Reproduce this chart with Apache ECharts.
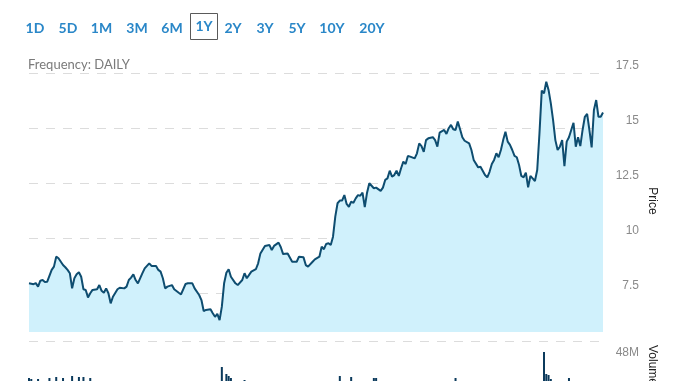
<!DOCTYPE html>
<html><head><meta charset="utf-8">
<script src="https://cdn.jsdelivr.net/npm/echarts@6/dist/echarts.min.js"></script>
<style>html,body{margin:0;padding:0;background:#fff}#c{width:678px;height:381px}</style>
</head><body><div id="c"></div>
<script>
// ---- data (trading-day index from start of the 1Y window) ----
const days = [
0,2,3,4,5,6,7,8,10,11,
12,13,15,16,17,18,19,20,21,22,
23,24,25,26,27,28,30,31,32,33,
34,35,36,37,39,40,42,43,44,45,
46,47,48,50,51,53,54,56,57,58,
59,60,61,63,64,66,67,69,70,72,
73,75,76,77,78,80,81,82,83,84,
85,86,87,88,89,91,92,94,95,96,
98,100,101,102,104,106,107,108,110,111,
112,114,116,118,119,121,122,123,125,126,
128,129,130,131,132,133,134,135,136,137,
138,139,140,141,142,143,144,145,146,147,
148,149,150,152,153,155,156,157,158,159,
160,161,162,163,164,165,166,167,168,170,
171,172,173,174,175,176,178,179,180,181,
183,184,185,186,187,188,189,190,191,192,
194,195,196,198,199,201,202,203,204,205,
206,207,208,209,210,211,212,213,214,215,
216,217,218,219,220,221,222,223,224,225,
226,227,228,229,230,231,232,233,234,235,
236,237,238,239,240,241,242,243,244,245,
246,247,248,249,250,251,252,253];
const prices = [
7.94,7.90,7.95,7.79,8.06,8.09,8.00,8.01,8.55,8.70,
9.15,9.08,8.77,8.67,8.55,8.40,7.71,8.17,8.35,8.44,
8.24,7.67,7.64,7.30,7.49,7.64,7.67,7.86,7.60,7.51,
7.71,7.49,7.03,7.33,7.67,7.74,7.71,7.79,8.09,8.20,
8.35,8.09,7.94,8.40,8.62,8.85,8.73,8.73,8.55,8.47,
8.17,7.71,7.79,7.86,7.67,7.51,7.44,7.91,7.94,7.94,
7.71,7.41,7.18,6.68,6.73,6.76,6.58,6.42,6.55,6.27,
6.88,7.94,8.42,8.58,8.24,7.94,7.86,8.09,8.40,8.17,
8.47,8.58,8.85,9.30,9.64,9.68,9.45,9.64,9.79,9.58,
9.27,9.30,8.92,8.92,9.15,9.12,8.77,8.70,8.92,9.03,
9.15,9.60,9.49,9.73,9.76,9.68,10.06,10.97,11.58,11.70,
11.70,11.95,11.55,11.42,11.65,11.60,11.80,11.95,11.92,12.06,
11.40,12.06,12.49,12.26,12.29,12.14,12.29,12.64,12.71,13.06,
12.79,12.86,13.06,12.82,13.17,13.47,13.36,13.73,13.70,13.62,
13.85,14.30,14.18,13.92,14.45,14.53,14.58,14.45,14.15,14.79,
14.91,14.73,14.99,15.14,14.94,14.91,15.29,14.94,14.58,14.42,
14.30,14.00,13.55,13.21,13.24,12.86,12.76,13.01,13.36,13.55,
13.85,13.67,14.00,14.45,14.83,14.38,14.23,14.00,13.73,13.67,
13.32,12.82,12.76,12.97,12.30,12.82,12.71,12.59,13.09,14.76,
16.70,16.58,17.10,16.73,16.12,15.36,14.45,14.00,14.15,14.45,
13.27,14.38,14.58,14.91,15.24,14.15,14.58,14.18,14.91,15.51,
15.64,14.91,14.12,15.82,16.27,15.51,15.51,15.70];
const volumeDays = [0,1,4,9,12,15,19,22,24,27,85,87,88,89,95,137,142,152,153,188,227,228,229,230,238];
const volumesM = [18.4,17.6,17.6,18.4,19.2,18.4,20,19.2,19.2,18.4,27.2,21.6,20,18.4,16.8,20,19.2,18.4,18.4,18.4,39.2,21.6,20.8,17.6,18.4];
const priceTicks = [7.5,10,12.5,15,17.5];
const volumeTickM = 48;
const rangeButtons = ['1D','5D','1M','3M','6M','1Y','2Y','3Y','5Y','10Y','20Y'];
const selectedRange = '1Y';
const frequencyText = 'Frequency: DAILY';
const priceTitle = 'Price';
const volumeTitle = 'Volume';
const priceAreaBase = 5.73;

// ---- layout / style ----
const buttonX = [35,68,101.5,137,172,204,233,265,297,332,372];
const lastDay = 253;
const gridDash = {color:'#dcdcdc', type:[9,8], width:1};
const blue = '#2a87c8';

const chart = echarts.init(document.getElementById('c'), null, {renderer:'canvas'});
const graphics = [];
rangeButtons.forEach((b,i)=>{
  graphics.push({type:'text', x:buttonX[i], y: b===selectedRange?26.5:28.5, style:{text:b, align:'center', verticalAlign:'middle', fill:blue, font:'bold 14px Lato'}});
  if(b===selectedRange){
    graphics.push({type:'rect', shape:{x:190.5,y:13.5,width:27,height:26}, style:{fill:'none', stroke:'#5a5a5a', lineWidth:1}});
  }
});
graphics.push({type:'text', x:28, y:65, style:{text:frequencyText, align:'left', verticalAlign:'middle', fill:'#7a7a7a', font:'13px Lato'}});
graphics.push({type:'text', x:652, y:201, rotation:-Math.PI/2, style:{text:priceTitle, align:'center', verticalAlign:'middle', fill:'#222', font:'12px "Liberation Sans"'}});
graphics.push({type:'text', x:652, y:345, rotation:-Math.PI/2, style:{text:volumeTitle, align:'left', verticalAlign:'middle', fill:'#222', font:'12px "Liberation Sans"'}});

chart.setOption({
  animation:false,
  grid:[
    {left:29, right:75, top:73, height:275, outerBoundsMode:'none', containLabel:false},
    {left:29, right:75, top:341, height:60, outerBoundsMode:'none', containLabel:false}
  ],
  xAxis:[
    {type:'value', gridIndex:0, min:0, max:lastDay, show:false},
    {type:'value', gridIndex:1, min:0, max:lastDay, show:false}
  ],
  yAxis:[
    {type:'value', gridIndex:0, position:'right', min:5, max:17.5, interval:2.5,
     axisLine:{show:false}, axisTick:{show:false},
     splitLine:{show:true, showMinLine:false, lineStyle:gridDash},
     axisLabel:{align:'right', margin:36, verticalAlign:'bottom', lineHeight:14, color:'#8a8a8a', fontSize:12, fontFamily:'Liberation Sans',
       formatter:v=> priceTicks.indexOf(v)>=0 ? String(v) : ''}},
    {type:'value', gridIndex:1, position:'right', min:0, max:volumeTickM*1e6, interval:volumeTickM*1e6,
     axisLine:{show:false}, axisTick:{show:false},
     splitLine:{show:true, showMinLine:false, lineStyle:gridDash},
     axisLabel:{align:'right', margin:36, verticalAlign:'top', lineHeight:14, padding:[5,0,0,0], color:'#8a8a8a', fontSize:12, fontFamily:'Liberation Sans',
       formatter:v=> v===volumeTickM*1e6 ? volumeTickM+'M' : ''}}
  ],
  series:[
    {type:'line', xAxisIndex:0, yAxisIndex:0, data:days.map((d,i)=>[d,prices[i]]), symbol:'none',
     lineStyle:{color:'#0e4d70', width:2}, areaStyle:{color:'#d0f1fc', opacity:1, origin:priceAreaBase}},
    {type:'bar', xAxisIndex:1, yAxisIndex:1, data:volumeDays.map((d,i)=>[d,volumesM[i]*1e6]), barWidth:2,
     itemStyle:{color:'#0b3a5c'}}
  ],
  graphic:graphics
});
</script></body></html>
